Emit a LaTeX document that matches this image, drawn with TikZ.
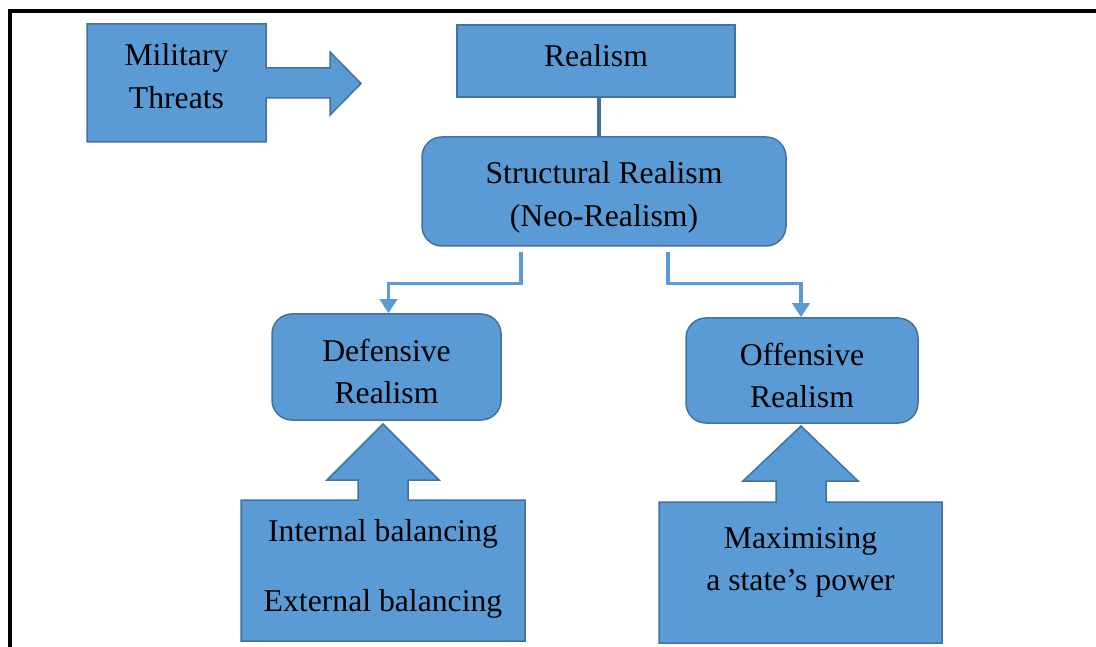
\documentclass[tikz,border=0pt]{standalone}
\usepackage{fontspec}
\setmainfont{Liberation Serif}
\usetikzlibrary{arrows.meta}
\definecolor{boxfill}{RGB}{91,155,213}
\definecolor{boxline}{RGB}{65,113,156}
\begin{document}
\begin{tikzpicture}[x=1pt,y=-1pt,
  shapebox/.style={fill=boxfill,draw=boxline,line width=1.5pt,line join=miter},
  plainbox/.style={shapebox,rectangle,inner sep=0pt},
  roundbox/.style={plainbox,rounded corners=20pt},
  txt/.style={align=center,inner sep=0pt,font=\fontsize{31.7}{42.5}\selectfont},
  elbow/.style={draw=boxfill,line width=3.5pt,-{Triangle[width=17pt,length=14pt]}},
  stem/.style={draw=boxline,line width=3.5pt}]
\useasboundingbox (0,0) rectangle (1096,647);

% frame
\draw[line width=4pt] (1096,11) -- (10,11) -- (10,647);

% Military threats: box with right-pointing arrow
\draw[shapebox] (87,24) -- (266,24) -- (266,68) -- (330,68) -- (330,52)
  -- (361,83.5) -- (330,115) -- (330,98) -- (266,98) -- (266,142)
  -- (87,142) -- cycle;
\node[txt] (mil) at (176.5,76) {Military\\Threats};

% main hierarchy
\node[plainbox,minimum width=278,minimum height=72] (realism) at (596,61) {};
\node[txt] (realismtxt) at (596,56) {Realism};

\node[roundbox,minimum width=364,minimum height=109] (struct) at (604,191.5) {};
\node[txt] (structtxt) at (604,197.5) {Structural Realism\\(Neo-Realism)};

\node[roundbox,minimum width=229,minimum height=106] (def) at (386.5,367) {};
\node[txt] (deftxt) at (386.5,371.5) {Defensive\\Realism};

\node[roundbox,minimum width=232,minimum height=105] (off) at (802,370.5) {};
\node[txt] (offtxt) at (802,375.5) {Offensive\\Realism};

% connectors
\draw[stem] ([xshift=3pt]realism.south) -- ([xshift=3pt]realism.south |- struct.north);
\coordinate (sl) at (521,252);
\coordinate (sr) at (668,252);
\draw[elbow] (sl) -- (521,283.5) -| ([xshift=2pt]def.north);
\draw[elbow] (sr) -- (668,283.5) -| ([xshift=-1pt]off.north);

% Defensive realism means: box with upward arrow
\draw[shapebox] (241,500) -- (358,500) -- (358,480) -- (327,480) -- (383,424)
  -- (439,480) -- (408,480) -- (408,500) -- (525,500) -- (525,641)
  -- (241,641) -- cycle;
\node[txt] (inttxt) at (383,568.8) {Internal balancing\\[27.5pt]External balancing};

% Offensive realism aim: box with upward arrow
\draw[shapebox] (659,502) -- (776,502) -- (776,481) -- (743,481) -- (801,426)
  -- (858,481) -- (826,481) -- (826,502) -- (942,502) -- (942,643)
  -- (659,643) -- cycle;
\node[txt] (maxtxt) at (800.5,562.2) {Maximising\\a state’s power};
\end{tikzpicture}
\end{document}
